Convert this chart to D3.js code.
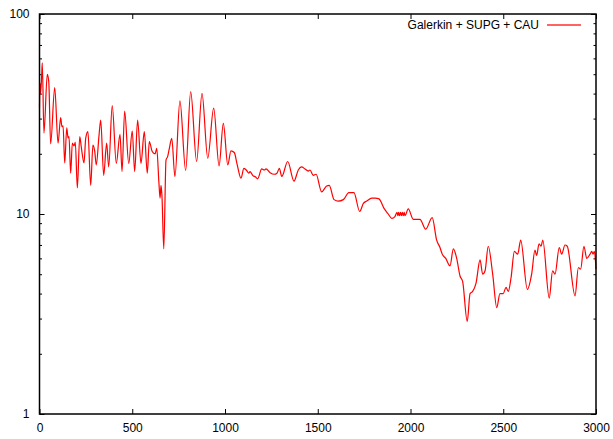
<!DOCTYPE html>
<html>
<head>
<meta charset="utf-8">
<script src="https://cdn.jsdelivr.net/npm/d3@7"></script>
<style>
  body { margin: 0; background: #fff; }
  text { font-family: "Liberation Sans", Arial, sans-serif; font-size: 12px; fill: #000; }
</style>
</head>
<body>
<div id="chart"></div>
<script>
// series
var xs = [0, 3, 6, 12, 15, 24, 42, 50, 60, 82, 100, 114, 121, 127, 136, 147, 154, 159, 168, 177,
  186, 193, 204, 217, 225, 240, 249, 261, 276, 288, 298, 306, 321, 330, 346, 362, 373, 392, 414, 434,
  445, 459, 481, 500, 513, 529, 547, 565, 581, 592, 608, 623, 632, 644, 650, 655, 660, 670, 682, 691,
  700, 713, 730, 757, 788, 815, 847, 876, 907, 939, 968, 991, 1015, 1032, 1050, 1066, 1086, 1102, 1117, 1128,
  1135, 1149, 1165, 1176, 1198, 1212, 1221, 1243, 1266, 1280, 1293, 1306, 1338, 1372, 1395, 1413, 1431, 1449, 1458, 1476,
  1491, 1521, 1548, 1562, 1588, 1611, 1638, 1668, 1695, 1726, 1746, 1764, 1791, 1809, 1830, 1859, 1880, 1899, 1916, 1927,
  1932, 1936, 1941, 1946, 1951, 1956, 1961, 1966, 1970, 1988, 2015, 2051, 2082, 2117, 2141, 2159, 2171, 2190, 2213, 2231,
  2249, 2267, 2281, 2306, 2321, 2335, 2353, 2375, 2389, 2402, 2419, 2443, 2465, 2482, 2500, 2515, 2527, 2542, 2560, 2578,
  2594, 2630, 2653, 2671, 2680, 2693, 2704, 2713, 2748, 2766, 2779, 2802, 2815, 2833, 2845, 2887, 2905, 2917, 2935, 2950,
  2968, 2977, 2984, 2991, 3000];
var ys = [34, 45, 40, 50, 57, 25.4, 49.9, 45.9, 22.4, 42.8, 22.6, 30.3, 27.3, 27.6, 18.0, 27.0, 24.0, 24.4, 16.0, 22.6,
  21.9, 22.8, 13.5, 24.4, 21.7, 18.0, 23.9, 25.8, 13.9, 22.1, 20.5, 17.6, 24.8, 29.5, 15.6, 22.6, 17.2, 34.8, 17.9, 25.0,
  16.3, 32.7, 17.9, 26.0, 16.3, 29.5, 17.9, 25.8, 16.0, 23.0, 20.5, 20.0, 21.3, 14.2, 12.0, 13.9, 12.4, 6.7, 18.6, 19.4,
  21.3, 23.9, 15.4, 36.8, 16.5, 40.9, 18.3, 40.1, 19.0, 33.8, 17.4, 28.4, 17.6, 20.7, 20.3, 17.6, 15.1, 16.9, 16.5, 16.0,
  16.3, 15.6, 15.3, 15.0, 16.8, 16.6, 16.8, 16.1, 15.8, 16.0, 16.9, 15.4, 18.3, 14.6, 16.6, 17.2, 16.8, 16.4, 16.6, 15.6,
  15.8, 12.9, 13.8, 13.9, 11.8, 11.6, 11.8, 12.8, 12.8, 10.3, 11.3, 11.6, 12.0, 12.0, 11.9, 10.6, 10.0, 9.5, 9.7, 10.2,
  9.8, 10.2, 9.8, 10.2, 9.8, 10.2, 9.8, 10.2, 9.8, 10.6, 9.4, 9.4, 8.4, 9.6, 7.4, 6.8, 6.3, 6.0, 5.5, 6.7,
  6.0, 4.9, 4.6, 2.9, 4.0, 4.1, 4.5, 5.9, 5.0, 5.2, 6.9, 5.0, 3.4, 4.0, 4.0, 4.3, 4.1, 4.8, 6.5, 6.3,
  7.4, 4.2, 5.0, 6.6, 6.2, 7.1, 6.9, 7.4, 3.8, 5.2, 5.0, 6.8, 6.3, 7.0, 6.9, 3.9, 5.4, 5.3, 6.9, 6.0,
  6.3, 6.5, 6.3, 6.5, 5.3];

var seriesName = 'Galerkin + SUPG + CAU';
var xTicks = [0, 500, 1000, 1500, 2000, 2500, 3000];
var yMajor = [1, 10, 100];
var yMinor = [2, 3, 4, 5, 6, 7, 8, 9, 20, 30, 40, 50, 60, 70, 80, 90];

var W = 613, H = 439;
// plot box (note: "top" is reserved on window, so prefix everything)
var boxL = 39.5, boxR = 596, boxT = 14, boxB = 414;

var svg = d3.select('#chart')
    .append('svg')
    .attr('width', W)
    .attr('height', H);

var x = d3.scaleLinear().domain([0, 3000]).range([boxL, boxR]);
var y = d3.scaleLog().domain([1, 100]).range([boxB, boxT]);

// ticks, all pointing inward (gnuplot style)
function cleanAxis(g) {
    g.select('.domain').remove();
    g.selectAll('.tick line').attr('stroke', '#000').attr('stroke-width', 1);
    g.selectAll('.tick text').style('font-family', '"Liberation Sans", Arial, sans-serif').style('font-size', '12px');
}

svg.append('g')
    .attr('transform', 'translate(0,' + boxB + ')')
    .call(d3.axisBottom(x).tickValues(xTicks).tickSize(-5).tickPadding(9).tickFormat(d3.format('d')))
    .call(cleanAxis);

svg.append('g')
    .attr('transform', 'translate(0,' + boxT + ')')
    .call(d3.axisTop(x).tickValues(xTicks).tickSize(-5).tickFormat(''))
    .call(cleanAxis);

svg.append('g')
    .attr('transform', 'translate(' + boxL + ',0)')
    .call(d3.axisLeft(y).tickValues(yMajor).tickSize(-5).tickPadding(10).tickFormat(d3.format('d')))
    .call(cleanAxis);

svg.append('g')
    .attr('transform', 'translate(' + boxL + ',0)')
    .call(d3.axisLeft(y).tickValues(yMinor).tickSize(-2.5).tickFormat(''))
    .call(cleanAxis);

svg.append('g')
    .attr('transform', 'translate(' + boxR + ',0)')
    .call(d3.axisRight(y).tickValues(yMajor).tickSize(-5).tickFormat(''))
    .call(cleanAxis);

svg.append('g')
    .attr('transform', 'translate(' + boxR + ',0)')
    .call(d3.axisRight(y).tickValues(yMinor).tickSize(-2.5).tickFormat(''))
    .call(cleanAxis);

// the curve
var pts = xs.map(function (d, i) { return [d, ys[i]]; });
var lineGen = d3.line()
    .x(function (d) { return x(d[0]); })
    .y(function (d) { return y(d[1]); })
    .curve(d3.curveMonotoneX);

svg.append('path')
    .datum(pts)
    .attr('d', lineGen)
    .style('fill', 'none')
    .style('stroke', '#ff0000')
    .style('stroke-width', 1.2)
    .style('stroke-linejoin', 'round');

// frame
svg.append('rect')
    .attr('x', boxL)
    .attr('y', boxT)
    .attr('width', boxR - boxL)
    .attr('height', boxB - boxT)
    .style('fill', 'none')
    .style('stroke', '#000')
    .style('stroke-width', 1.5);

// legend
var legend = svg.append('g').attr('transform', 'translate(0,25)');
legend.append('text')
    .attr('x', 539)
    .attr('dy', '0.35em')
    .attr('text-anchor', 'end')
    .text(seriesName);
legend.append('rect')
    .attr('x', 547).attr('y', -0.75)
    .attr('width', 34).attr('height', 1.5)
    .style('fill', '#ff3030')
    .style('stroke', 'none');
</script>
</body>
</html>
